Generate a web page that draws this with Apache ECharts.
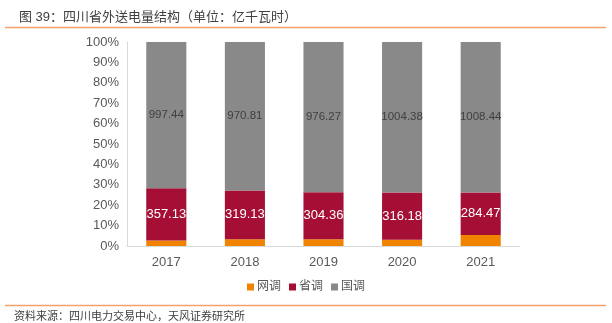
<!DOCTYPE html>
<html><head><meta charset="utf-8">
<script src="https://cdn.jsdelivr.net/npm/echarts@6/dist/echarts.min.js"></script>
<style>html,body{margin:0;padding:0;background:#fff}#c{width:612px;height:323px}</style>
</head><body><div id="c"></div>
<script>
const categories = ['2017','2018','2019','2020','2021'];
const wangdiao = [37, 44, 44, 41, 74];
const shengdiao = [357.13, 319.13, 304.36, 316.18, 284.47];
const guodiao = [997.44, 970.81, 976.27, 1004.38, 1008.44];
const yTicks = ['0%','10%','20%','30%','40%','50%','60%','70%','80%','90%','100%'];

const totals = categories.map((_, i) => wangdiao[i] + shengdiao[i] + guodiao[i]);
const pct = arr => arr.map((v, i) => ({ value: v / totals[i] * 100, raw: v }));
const font = '"Liberation Sans", Arial, "Noto Sans CJK SC", sans-serif';

const chart = echarts.init(document.getElementById('c'));
chart.setOption({
  animation: false,
  backgroundColor: '#fff',
  textStyle: { fontFamily: font },
  title: {
    text: '图 39：四川省外送电量结构（单位：亿千瓦时）',
    left: 14, top: 6,
    textStyle: { fontSize: 13, fontWeight: 'normal', color: '#404040', fontFamily: font }
  },
  graphic: [
    { type: 'line', shape: { x1: 5, y1: 27.5, x2: 606, y2: 27.5 }, style: { stroke: '#F2A26B', lineWidth: 1.5 } },
    { type: 'line', shape: { x1: 5, y1: 305.5, x2: 606, y2: 305.5 }, style: { stroke: '#F2A26B', lineWidth: 1.5 } },
    { type: 'text', left: 14, top: 311, style: { text: '资料来源：四川电力交易中心，天风证券研究所', fontSize: 11, fill: '#404040', fontFamily: font } }
  ],
  legend: {
    bottom: 25, left: 'center',
    itemWidth: 7, itemHeight: 7, itemGap: 8,
    icon: 'rect',
    textStyle: { fontSize: 12, color: '#595959', padding: [0, 0, 0, -2] },
    data: ['网调', '省调', '国调']
  },
  grid: { left: 127, right: 92, top: 42, bottom: 77, containLabel: false },
  xAxis: {
    type: 'category', data: categories,
    axisLine: { lineStyle: { color: '#d9d9d9' } },
    axisTick: { show: false },
    axisLabel: { fontSize: 13, color: '#595959', margin: 10 }
  },
  yAxis: {
    type: 'value', min: 0, max: 100, interval: 10,
    axisLine: { show: true, lineStyle: { color: '#d9d9d9' } },
    axisTick: { show: false },
    splitLine: { show: false },
    axisLabel: { fontSize: 13, color: '#595959', margin: 8,
      formatter: v => yTicks[Math.round(v / 10)] }
  },
  series: [
    { name: '网调', type: 'bar', stack: 's', barWidth: '51%', data: pct(wangdiao),
      itemStyle: { color: '#F08300' }, label: { show: false } },
    { name: '省调', type: 'bar', stack: 's', data: pct(shengdiao),
      itemStyle: { color: '#A50E35' },
      label: { show: true, position: 'inside', color: '#fff', fontSize: 13,
        formatter: p => p.data.raw.toFixed(2) } },
    { name: '国调', type: 'bar', stack: 's', data: pct(guodiao),
      itemStyle: { color: '#898989' },
      label: { show: true, position: 'inside', color: '#404040', fontSize: 11.5,
        formatter: p => p.data.raw.toFixed(2) } }
  ]
});
</script></body></html>
